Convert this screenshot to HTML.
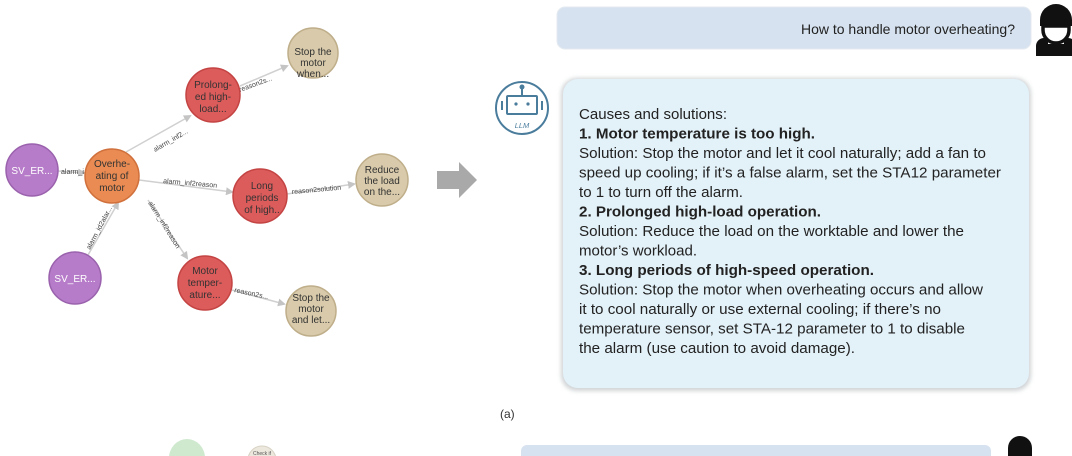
<!DOCTYPE html>
<html><head><meta charset="utf-8"><style>
html,body{margin:0;padding:0;background:#fff;}
svg{display:block;font-family:"Liberation Sans",Arial,sans-serif;}
</style></head><body>
<svg width="1072" height="456" viewBox="0 0 1072 456" xmlns="http://www.w3.org/2000/svg">
<defs>
<marker id="ah" markerWidth="8" markerHeight="8" refX="6" refY="4" orient="auto" markerUnits="userSpaceOnUse">
<path d="M0,0 L8,4 L0,8 z" fill="#c4c4c4"/></marker>
<filter id="sh" x="-5%" y="-5%" width="110%" height="110%"><feGaussianBlur stdDeviation="2"/></filter>
</defs>
<!-- edges -->
<g stroke="#d0d0d0" stroke-width="1.5" fill="none" marker-end="url(#ah)">
<line x1="58" y1="171" x2="84" y2="173"/>
<line x1="126" y1="152" x2="190" y2="116"/>
<line x1="240" y1="86" x2="287" y2="66"/>
<line x1="139" y1="180" x2="232" y2="192"/>
<line x1="287" y1="194" x2="354" y2="184"/>
<line x1="148" y1="200" x2="187" y2="258"/>
<line x1="88" y1="255" x2="118" y2="203"/>
<line x1="232" y1="290" x2="284" y2="304"/>
</g>
<!-- edge labels -->
<g font-size="7" fill="#444">
<text x="61" y="174">alarm_i...</text>
<text x="155" y="152" transform="rotate(-30 155 152)">alarm_inf2...</text>
<text x="240" y="92" transform="rotate(-20 240 92)">reason2s...</text>
<text x="163" y="183" transform="rotate(5 163 183)">alarm_inf2reason</text>
<text x="292" y="194" transform="rotate(-5 292 194)">reason2solution</text>
<text x="148" y="203" transform="rotate(58 148 203)">alarm_inf2reason</text>
<text x="90" y="250" transform="rotate(-62 90 250)">alarm_id2alar...</text>
<text x="234" y="292" transform="rotate(12 234 292)">reason2s...</text>
</g>
<!-- nodes -->
<g stroke-width="1.5">
<circle cx="32" cy="170" r="26" fill="#b77cc9" stroke="#9a62ad"/>
<circle cx="75" cy="278" r="26" fill="#b77cc9" stroke="#9a62ad"/>
<circle cx="112" cy="176" r="27" fill="#e98b52" stroke="#d0703c"/>
<circle cx="213" cy="95" r="27" fill="#dc5b5b" stroke="#c44444"/>
<circle cx="260" cy="196" r="27" fill="#dc5b5b" stroke="#c44444"/>
<circle cx="205" cy="283" r="27" fill="#dc5b5b" stroke="#c44444"/>
<circle cx="313" cy="53" r="25" fill="#d8caaa" stroke="#bfae8a"/>
<circle cx="382" cy="180" r="26" fill="#d8caaa" stroke="#bfae8a"/>
<circle cx="311" cy="311" r="25" fill="#d8caaa" stroke="#bfae8a"/>
</g>
<g font-size="10" text-anchor="middle">
<text x="32" y="174" fill="#fff">SV_ER...</text>
<text x="75" y="282" fill="#fff">SV_ER...</text>
<g fill="#333">
<text x="112" y="167">Overhe-</text><text x="112" y="179">ating of</text><text x="112" y="191">motor</text>
<text x="213" y="88">Prolong-</text><text x="213" y="100">ed high-</text><text x="213" y="112">load...</text>
<text x="262" y="189">Long</text><text x="262" y="201">periods</text><text x="262" y="213">of high..</text>
<text x="205" y="274">Motor</text><text x="205" y="286">temper-</text><text x="205" y="298">ature...</text>
<text x="313" y="55">Stop the</text><text x="313" y="66">motor</text><text x="313" y="77">when...</text>
<text x="382" y="173">Reduce</text><text x="382" y="184">the load</text><text x="382" y="195">on the...</text>
<text x="311" y="301">Stop the</text><text x="311" y="312">motor</text><text x="311" y="323">and let...</text>
</g></g>
<!-- big arrow -->
<path d="M437,171 H459 V162 L477,180 L459,198 V189 H437 Z" fill="#a9a9a9"/>
<!-- question box -->
<rect x="557" y="7" width="474" height="42" rx="8" fill="#d6e2ef" stroke="#e4eaf0"/>
<text x="1015" y="34" font-size="14" fill="#222" text-anchor="end">How to handle motor overheating?</text>
<!-- person icon -->
<g fill="#111">
<path d="M1040,20 a16,16 0 0 1 32,0 v6 h-32 z"/>
<path d="M1043,26 h26 v4 a13,13 0 0 1 -26,0 z" fill="none" stroke="#111" stroke-width="3.5"/>
<path d="M1036,56 v-10 a8,8 0 0 1 8,-8 h4 v6 h16 v-6 h4 a8,8 0 0 1 8,8 v10 z"/>
</g>
<!-- answer box -->
<rect x="561" y="78" width="470" height="313" rx="16" fill="#d0d4d6" filter="url(#sh)"/>
<rect x="563" y="79" width="466" height="309" rx="15" fill="#e3f1f8"/>
<!-- LLM icon -->
<g stroke="#4a7c9c" fill="none" stroke-width="2">
<circle cx="522" cy="108" r="26"/>
<rect x="507" y="96" width="30" height="18" rx="1"/>
<line x1="522" y1="96" x2="522" y2="89"/>
<line x1="502" y1="101" x2="502" y2="110"/><line x1="542" y1="101" x2="542" y2="110"/>
</g>
<circle cx="522" cy="87" r="2.5" fill="#4a7c9c"/>
<circle cx="516" cy="104" r="1.6" fill="#4a7c9c"/><circle cx="528" cy="104" r="1.6" fill="#4a7c9c"/>
<text x="522" y="128" font-size="7.5" font-style="italic" fill="#4a7c9c" text-anchor="middle">LLM</text>
<!-- answer text -->
<g font-size="14.5" fill="#222" lengthAdjust="spacingAndGlyphs">
<text x="579" y="119" textLength="148" lengthAdjust="spacingAndGlyphs">Causes and solutions:</text>
<text x="579" y="138.5" font-weight="bold" textLength="236" lengthAdjust="spacingAndGlyphs">1. Motor temperature is too high.</text>
<text x="579" y="158" textLength="407" lengthAdjust="spacingAndGlyphs">Solution: Stop the motor and let it cool naturally; add a fan to</text>
<text x="579" y="177.5" textLength="422" lengthAdjust="spacingAndGlyphs">speed up cooling; if it’s a false alarm, set the STA12 parameter</text>
<text x="579" y="197" textLength="164" lengthAdjust="spacingAndGlyphs">to 1 to turn off the alarm.</text>
<text x="579" y="216.5" font-weight="bold" textLength="242" lengthAdjust="spacingAndGlyphs">2. Prolonged high-load operation.</text>
<text x="579" y="236" textLength="385" lengthAdjust="spacingAndGlyphs">Solution: Reduce the load on the worktable and lower the</text>
<text x="579" y="255.5" textLength="118" lengthAdjust="spacingAndGlyphs">motor’s workload.</text>
<text x="579" y="275" font-weight="bold" textLength="295" lengthAdjust="spacingAndGlyphs">3. Long periods of high-speed operation.</text>
<text x="579" y="294.5" textLength="404" lengthAdjust="spacingAndGlyphs">Solution: Stop the motor when overheating occurs and allow</text>
<text x="579" y="314" textLength="362" lengthAdjust="spacingAndGlyphs">it to cool naturally or use external cooling; if there’s no</text>
<text x="579" y="333.5" textLength="386" lengthAdjust="spacingAndGlyphs">temperature sensor, set STA-12 parameter to 1 to disable</text>
<text x="579" y="353" textLength="276" lengthAdjust="spacingAndGlyphs">the alarm (use caution to avoid damage).</text>
</g>
<text x="500" y="418" font-size="12" fill="#333">(a)</text>
<!-- bottom partial -->
<ellipse cx="187" cy="458" rx="18" rx2="18" ry="19" fill="#cfe9cf"/>
<circle cx="262" cy="460" r="14" fill="#ece8de" stroke="#d8d2c4"/>
<text x="262" y="455" font-size="5" fill="#555" text-anchor="middle">Check if</text>
<rect x="521" y="445" width="470" height="20" rx="6" fill="#d6e2ef"/>
<path d="M1008,456 v-8 a12,12 0 0 1 24,0 v8 z" fill="#111"/>
</svg>
</body></html>
